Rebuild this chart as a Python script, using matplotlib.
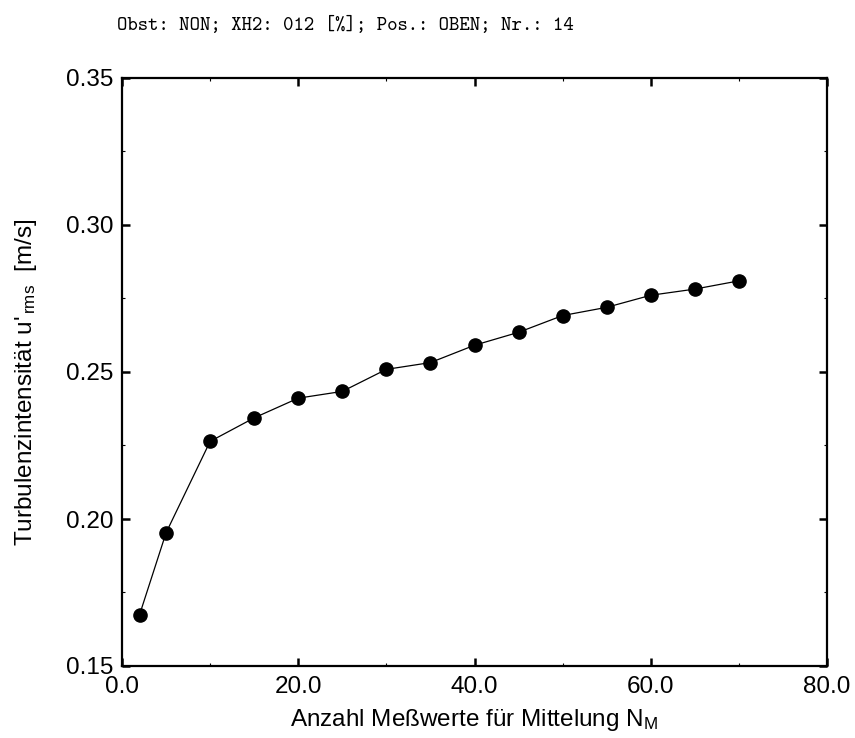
import matplotlib
matplotlib.use("Agg")
import matplotlib.pyplot as plt
from matplotlib.ticker import MultipleLocator, FormatStrFormatter

plt.rcParams['font.family'] = ['Liberation Sans', 'DejaVu Sans']
plt.rcParams['mathtext.fontset'] = 'custom'
plt.rcParams['mathtext.rm'] = 'Liberation Sans'
plt.rcParams['mathtext.it'] = 'Liberation Sans'

n_m = [2, 5, 10, 15, 20, 25, 30, 35, 40, 45, 50, 55, 60, 65, 70]
u_rms = [0.1675, 0.1953, 0.2264, 0.2344, 0.2411, 0.2434, 0.2509, 0.2532,
         0.2591, 0.2635, 0.2692, 0.2720, 0.2761, 0.2782, 0.2810]

title = "Obst: NON; XH2: 012 [%]; Pos.: OBEN; Nr.: 14"
xlabel = "Anzahl Meßwerte für Mittelung N$_\\mathrm{M}$"
ylabel = "Turbulenzintensität u'$_{\\mathrm{\\,rms}}$  [m/s]"

fig = plt.figure(figsize=(8.55, 7.38), dpi=100)
ax = fig.add_axes([122/855, 1-666/738, 705/855, (666-78)/738])

ax.plot(n_m, u_rms, color='black', linewidth=0.9, marker='o', markersize=9.5,
        markerfacecolor='black', markeredgecolor='black')

ax.set_xlim(0, 80)
ax.set_ylim(0.15, 0.35)
ax.xaxis.set_major_locator(MultipleLocator(20))
ax.xaxis.set_minor_locator(MultipleLocator(10))
ax.yaxis.set_major_locator(MultipleLocator(0.05))
ax.yaxis.set_minor_locator(MultipleLocator(0.025))
ax.xaxis.set_major_formatter(FormatStrFormatter('%.1f'))
ax.yaxis.set_major_formatter(FormatStrFormatter('%.2f'))

ax.tick_params(which='major', direction='in', length=6, width=1.8, labelsize=17.5,
               top=True, right=True)
ax.tick_params(axis='x', which='major', pad=7)
ax.tick_params(axis='y', which='major', pad=6)
ax.tick_params(which='minor', direction='in', length=2.5, width=0.8,
               top=True, right=True)
for s in ax.spines.values():
    s.set_linewidth(1.6)

ax.set_xlabel(xlabel, fontsize=17.5, labelpad=7)
ax.set_ylabel(ylabel, fontsize=17.5)
ax.yaxis.set_label_coords(-0.118, 0.483)

fig.text(117/855, 1-26/738, title, family='cmtt10', fontsize=14.3,
         ha='left', va='center')

fig.savefig('out.png', dpi=100)
